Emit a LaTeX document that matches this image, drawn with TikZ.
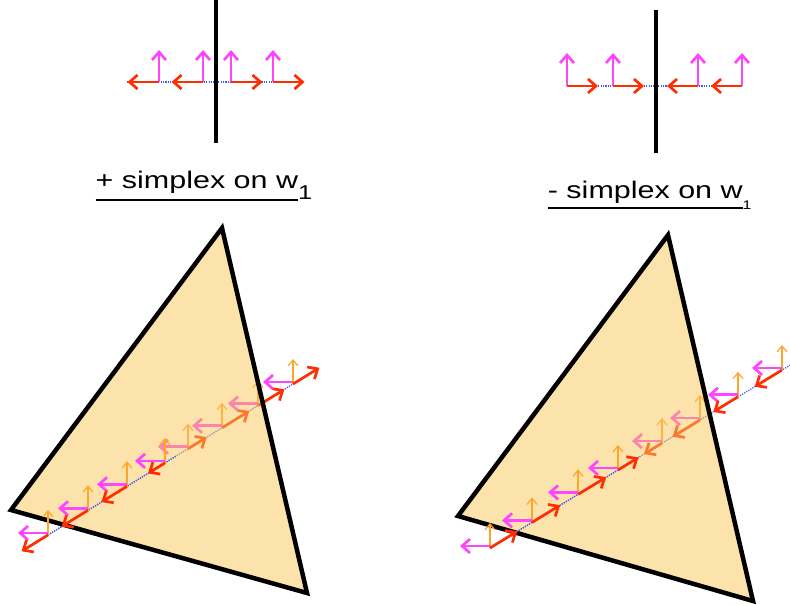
\documentclass[tikz,border=0pt]{standalone}
\usepackage{fontspec}
\newfontfamily\lblfont[FakeStretch=1.27]{Liberation Sans}
\usetikzlibrary{arrows.meta}
\definecolor{vecred}{RGB}{255,45,0}
\definecolor{vecmag}{RGB}{255,70,255}
\definecolor{vecorange}{RGB}{255,165,40}
\definecolor{vecblue}{RGB}{60,90,255}
\definecolor{simplexfill}{RGB}{250,197,88}
\newcommand{\ulbox}[2]{\setbox0\hbox{#2}\rlap{\rule[-#1]{\wd0}{2pt}}\box0}

\begin{document}
\begin{tikzpicture}[
  x=1pt, y=-1pt,
  wall/.style={line width=4pt},
  probe/.style={vecblue, line width=1.3pt, dash pattern=on 1.2pt off 1.2pt},
  redvec/.style={vecred, line width=2.7pt, -{Straight Barb[length=8pt, width=14pt]}},
  magvec/.style={vecmag, line width=2.7pt, -{Straight Barb[length=8pt, width=14pt]}},
  orvec/.style={vecorange, line width=1.2pt, -{Straight Barb[length=6pt, width=10pt]}},
  simplex/.style={draw=black, line width=4.5pt, line join=miter, fill=simplexfill, fill opacity=0.5},
  lbl/.style={inner sep=0pt, anchor=base west, font=\lblfont\fontsize{24}{28}\selectfont}
]
\useasboundingbox (0,0) rectangle (790,605);

% top: plus side
\draw[probe] (127,82) -- (304,82);
\draw[wall] (215.7,0) coordinate (wallplus) -- (215.7,143);
\foreach \px/\dir [count=\i] in {159/-1, 203/-1, 231/1, 273/1} {
  \coordinate (tp\i) at (\px,82);
  \draw[magvec] (tp\i) -- ++(0,-32);
  \draw[redvec] (tp\i) -- ++(\dir*31.5,0);
}
% top: minus side
\draw[probe] (567,86) -- (742,86);
\draw[wall] (656,10) coordinate (wallminus) -- (656,153);
\foreach \px/\dir [count=\i] in {567/1, 613/1, 698/-1, 742/-1} {
  \coordinate (tm\i) at (\px,86);
  \draw[magvec] (tm\i) -- ++(0,-33);
  \draw[redvec] (tm\i) -- ++(\dir*31,0);
}

\node[lbl] (plusname) at (95.5,188) {\ulbox{12.5pt}{+ simplex on w}\raisebox{-11pt}{\fontsize{20}{20}\selectfont 1}};
\node[lbl] (minusname) at (547.7,198) {\ulbox{11pt}{- simplex on w}\raisebox{-11pt}{\fontsize{12.5}{12.5}\selectfont 1}};

% left simplex, line passes behind it between lcut and the edge
\coordinate (la) at (222,228);
\coordinate (lb) at (11,510);
\coordinate (lc) at (307,593);
\coordinate (lin) at (48,535);
\coordinate (lcut) at (176,456.1);
\coordinate (lout) at (293,384);
\draw[probe] (lin) -- (lout);
\foreach \px/\py/\ang/\len [count=\i] in {188/448.7/-31.6/22, 222/427.8/-31.6/32, 258/405.6/-31.6/31} {
  \coordinate (lq\i) at (\px,\py);
  \draw[orvec] (lq\i) -- ++(0,-25);
  \draw[magvec] (lq\i) ++(0,-2) -- ++(-30,0);
  \draw[redvec] (lq\i) -- ++(\ang:\len);
}
\draw[simplex] (la) -- (lb) -- (lc) -- cycle;
\draw[probe] (lin) -- (lcut);
\foreach \px/\py/\ang/\len [count=\i] in {48/535/148.4/31, 88/510.3/148.4/31, 127/486.3/148.4/30, 165/462.9/148.4/20, 293/384/-31.6/31} {
  \coordinate (lp\i) at (\px,\py);
  \draw[orvec] (lp\i) -- ++(0,-25);
  \draw[magvec] (lp\i) ++(0,-2) -- ++(-30,0);
  \draw[redvec] (lp\i) -- ++(\ang:\len);
}

% right simplex
\coordinate (ra) at (668,235);
\coordinate (rb) at (458,516);
\coordinate (rc) at (753,601);
\coordinate (rin) at (490,548);
\coordinate (rcut) at (640,456.6);
\coordinate (rout) at (792,364);
\draw[probe] (rin) -- (rout);
\foreach \px/\py/\ang/\len [count=\i] in {662/443.1/148.6/21, 700/420/148.6/32} {
  \coordinate (rq\i) at (\px,\py);
  \draw[orvec] (rq\i) -- ++(0,-25);
  \draw[magvec] (rq\i) ++(0,-2) -- ++(-30,0);
  \draw[redvec] (rq\i) -- ++(\ang:\len);
}
\draw[simplex] (ra) -- (rb) -- (rc) -- cycle;
\draw[probe] (rin) -- (rcut);
\foreach \px/\py/\ang/\len [count=\i] in {490/548/-31.4/32, 532/522.4/-31.4/33, 578/494.4/-31.4/33, 618/470/-31.4/24, 738/396.8/148.6/29, 782/370/148.6/32} {
  \coordinate (rp\i) at (\px,\py);
  \draw[orvec] (rp\i) -- ++(0,-25);
  \draw[magvec] (rp\i) ++(0,-2) -- ++(-30,0);
  \draw[redvec] (rp\i) -- ++(\ang:\len);
}
\end{tikzpicture}
\end{document}
